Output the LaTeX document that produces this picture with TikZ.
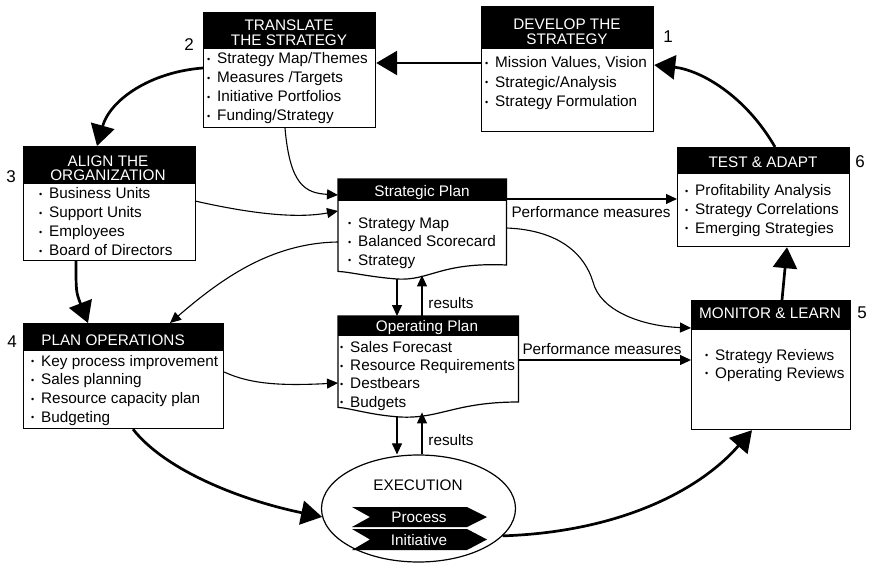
\documentclass[tikz,border=0pt]{standalone}
\usepackage{fontspec}
\setmainfont{Liberation Sans}
\usetikzlibrary{arrows.meta,calc,shapes.geometric}

% small list bullet followed by a fixed gap
\newcommand{\bul}{\makebox[10pt][l]{\raisebox{1.3pt}{\fontsize{9}{9}\selectfont\textbullet}}}

\tikzset{
  every node/.style={font=\fontsize{15.3}{15}\selectfont},
  frame/.style={draw, fill=white, line width=1.2pt, inner sep=0pt, anchor=north west},
  header/.style={path picture={\fill[black] (path picture bounding box.north west)
      rectangle ([yshift=-#1]path picture bounding box.north east);}},
  area/.style={inner sep=0pt, anchor=north west},
  hdtext/.style={text=white, anchor=base, inner sep=0pt},
  item/.style={anchor=base west, inner sep=0pt},
  stepnum/.style={font=\fontsize{17}{17}\selectfont, inner sep=0pt},
  lbl/.style={inner sep=0pt},
  bigarrow/.style={line width=2.7pt, -{Triangle[length=21pt,width=24pt]}},
  smallarrow/.style={line width=1.1pt, -{Triangle[length=11pt,width=10pt]}},
}

\begin{document}
\begin{tikzpicture}[x=1pt,y=-1pt]
\useasboundingbox (0,0) rectangle (872,564);

% ---------- step boxes ----------
\node[frame, header=36pt, minimum width=172pt, minimum height=115pt] (translate) at (203,12) {};
\node[frame, header=42pt, minimum width=172pt, minimum height=125pt] (develop) at (481,6) {};
\node[frame, header=37pt, minimum width=172pt, minimum height=114pt] (align) at (23,146) {};
\node[frame, header=26pt, minimum width=172pt, minimum height=99pt] (test) at (677,147) {};
\node[frame, header=27pt, minimum width=200pt, minimum height=105pt] (planops) at (23,323) {};
\node[frame, header=29pt, minimum width=159pt, minimum height=129pt] (monitor) at (691,300) {};

% ---------- plan documents (wavy bottom) ----------
\node[area, minimum width=168pt, minimum height=92pt] (strat) at (338,179) {};
\filldraw[fill=white, line width=1.2pt] (strat.north west) -- (strat.north east)
  -- ($(strat.north east)+(0,86)$) .. controls (440,262) and (430,281) .. (397,279)
  .. controls (370,277) and (350,272) .. (strat.south west) -- cycle;
\fill (strat.north west) rectangle ($(strat.north east)+(0,22)$);

\node[area, minimum width=180pt, minimum height=91pt] (oper) at (338,316) {};
\filldraw[fill=white, line width=1.2pt] (oper.north west) -- (oper.north east)
  -- ($(oper.north east)+(0,86)$) .. controls (455,402) and (440,419) .. (400,417)
  .. controls (370,415) and (350,408) .. (oper.south west) -- cycle;
\fill (oper.north west) rectangle ($(oper.north east)+(0,20)$);

% ---------- execution ----------
\node[ellipse, draw, line width=1.2pt, fill=white, minimum width=194pt, minimum height=107pt, inner sep=0pt] (exec) at (418.5,508.5) {};
\node[lbl] (exectitle) at (418,485) {EXECUTION};
\fill (352,507) -- (467,507) -- (487,517) -- (467,527) -- (352,527) -- (370,517) -- cycle;
\fill (352,529) -- (467,529) -- (487,539.5) -- (467,550) -- (352,550) -- (370,539.5) -- cycle;
\node[lbl, text=white] (process) at (419,517) {Process};
\node[lbl, text=white] (initiative) at (419,540) {Initiative};

% ---------- headers ----------
\node[hdtext] (trh1) at (289,30.5) {TRANSLATE};
\node[hdtext] (trh2) at (289,45.5) {THE STRATEGY};
\node[hdtext] (dvh1) at (567,29.5) {DEVELOP THE};
\node[hdtext] (dvh2) at (567,44.5) {STRATEGY};
\node[hdtext] (alh1) at (108,166.5) {ALIGN THE};
\node[hdtext] (alh2) at (108,180.5) {ORGANIZATION};
\node[hdtext] (sph) at (422,196.5) {Strategic Plan};
\node[hdtext] (tah) at (763,167.5) {TEST \& ADAPT};
\node[hdtext] (poh) at (113,345.5) {PLAN OPERATIONS};
\node[hdtext] (oph) at (427,331.5) {Operating Plan};
\node[hdtext] (mlh) at (770,318.5) {MONITOR \& LEARN};

% ---------- list items ----------
\foreach \t [count=\i] in {Strategy Map/Themes, Measures /Targets, Initiative Portfolios, Funding/Strategy}
  \node[item] (tr\i) at (207,{64+18.8*(\i-1)}) {\bul\t};
\foreach \t [count=\i] in {{Mission Values, Vision}, Strategic/Analysis, Strategy Formulation}
  \node[item] (dv\i) at (485,{68+19.2*(\i-1)}) {\bul\t};
\foreach \t [count=\i] in {Business Units, Support Units, Employees, Board of Directors}
  \node[item] (al\i) at (39,{199+18.8*(\i-1)}) {\bul\t};
\foreach \t [count=\i] in {Strategy Map, Balanced Scorecard, Strategy}
  \node[item] (sp\i) at (348,{228+18.5*(\i-1)}) {\bul\t};
\foreach \t [count=\i] in {Profitability Analysis, Strategy Correlations, Emerging Strategies}
  \node[item] (ta\i) at (685,{196+18.5*(\i-1)}) {\bul\t};
\foreach \t [count=\i] in {Key process improvement, Sales planning, Resource capacity plan, Budgeting}
  \node[item] (po\i) at (31,{366+18.7*(\i-1)}) {\bul\t};
\foreach \t [count=\i] in {Sales Forecast, Resource Requirements, Destbears, Budgets}
  \node[item] (op\i) at (340,{352+18.4*(\i-1)}) {\bul\t};
\foreach \t [count=\i] in {Strategy Reviews, Operating Reviews}
  \node[item] (ml\i) at (705,{360+18*(\i-1)}) {\bul\t};

% ---------- step numbers ----------
\node[stepnum] (n1) at (668,37) {1};
\node[stepnum] (n2) at (189,45) {2};
\node[stepnum] (n3) at (11,177) {3};
\node[stepnum] (n4) at (12,342) {4};
\node[stepnum] (n5) at (862,313) {5};
\node[stepnum] (n6) at (860,162) {6};

% ---------- main cycle ----------
\draw[bigarrow] ($(develop.north west)+(0,57)$) -- ($(translate.north east)+(0,51)$);
\draw[bigarrow] ($(translate.north west)+(0,56)$) .. controls (150,72) and (110,100) .. ($(align.north west)+(74,0)$);
\draw[bigarrow] ($(align.south west)+(53,0)$) .. controls (76,292) .. ($(planops.north west)+(65,0)$);
\draw[bigarrow] ($(planops.south west)+(110,0)$) .. controls (165,470) and (240,500) .. (exec.185);
\draw[bigarrow] (exec.-18) .. controls (620,532) and (700,490) .. ($(monitor.south west)+(61,0)$);
\draw[bigarrow] ($(monitor.north west)+(91,0)$) -- ($(test.south west)+(110,0)$);
\draw[bigarrow] ($(test.north west)+(98,0)$) .. controls (745,95) and (700,70) .. ($(develop.north east)+(0,59)$);

% ---------- information flows ----------
\draw[smallarrow] ($(translate.south west)+(82,0)$) .. controls (290,185) and (305,193) .. ($(strat.north west)+(0,16)$);
\draw[smallarrow] ($(align.north west)+(172,55)$) .. controls (235,210) and (290,220) .. ($(strat.north west)+(0,32)$);
\draw[smallarrow] ($(strat.north west)+(0,63)$) .. controls (270,243) and (220,280) .. ($(planops.north west)+(147,0)$);
\draw[smallarrow] ($(strat.north east)+(0,49)$) .. controls (560,230) and (585,255) .. (593,282)
  .. controls (600,310) and (640,326) .. ($(monitor.north west)+(0,28)$);
\draw[smallarrow] ($(strat.north east)+(0,20)$) -- ($(test.north west)+(0,52)$);
\node[lbl] (pm1) at (591,212) {Performance measures};
\draw[smallarrow] ($(planops.north east)+(0,49)$) .. controls (250,384) and (280,386) .. ($(oper.north west)+(0,67)$);
\draw[smallarrow] ($(oper.north east)+(0,44)$) -- ($(monitor.north west)+(0,60)$);
\node[lbl] (pm2) at (602,349) {Performance measures};

% plan cascade and results feedback
\draw[smallarrow] ($(strat.south west)+(59,8)$) -- ($(oper.north west)+(59,0)$);
\draw[smallarrow] ($(oper.north west)+(84,0)$) -- ($(strat.south west)+(84,4)$);
\node[lbl] (res1) at (451,303) {results};
\draw[smallarrow] ($(oper.south west)+(59,10)$) -- ($(exec.north)+(-21.5,0)$);
\draw[smallarrow] ($(exec.north)+(3.5,0)$) -- ($(oper.south west)+(84,5)$);
\node[lbl] (res2) at (451,440) {results};
\end{tikzpicture}
\end{document}
